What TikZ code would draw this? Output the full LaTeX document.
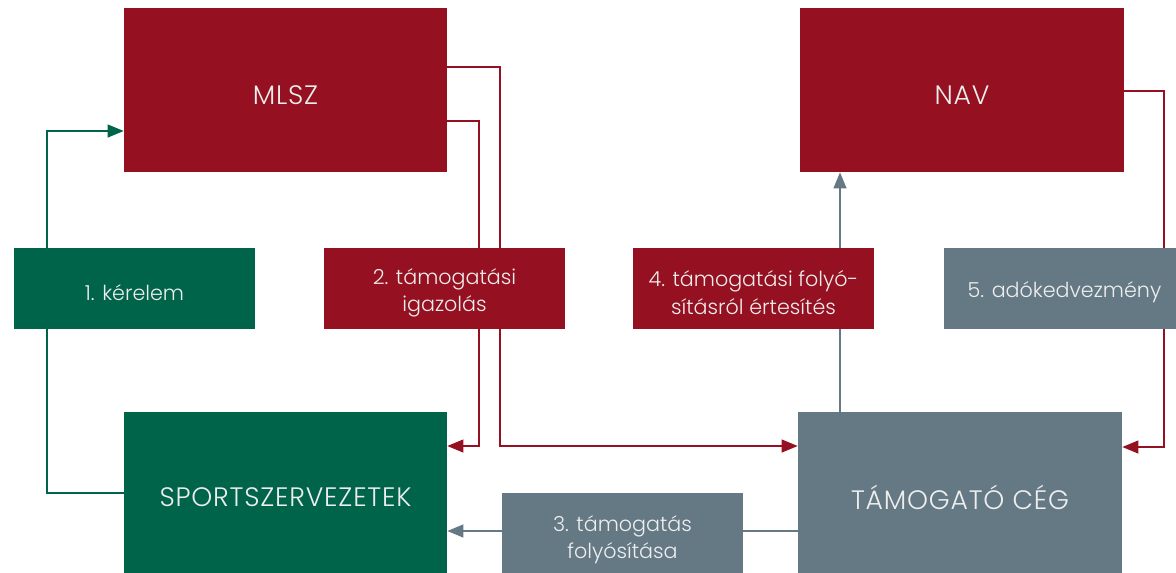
\documentclass[tikz,border=0pt]{standalone}
\usepackage{fontspec}
\setmainfont{Poppins}[UprightFont={* Light}]
\newfontfamily\bigfont{Poppins}[UprightFont={* Light}, LetterSpace=3]
\usetikzlibrary{arrows.meta}
\definecolor{cred}{HTML}{951020}
\definecolor{cgreen}{HTML}{00644B}
\definecolor{cgrey}{HTML}{657985}
\definecolor{ctext}{HTML}{EEEEEE}
\tikzset{
  box/.style={inner sep=0pt, text=ctext, align=center, font=\bigfont\fontsize{20}{24}\selectfont},
  lab/.style={inner sep=0pt, minimum width=180.75pt, minimum height=60.75pt},
  labtext/.style={inner sep=0pt, text=ctext, align=center, font=\fontsize{15.5}{20.5}\selectfont},
  ln/.style={line width=1.5pt, -{Triangle[length=12pt,width=9.5pt]}},
}
\begin{document}
\begin{tikzpicture}[x=0.75pt,y=-0.75pt]
\useasboundingbox (0,0) rectangle (1176,572);
\clip (0,0) rectangle (1176,572);
% main boxes
\node[box, fill=cred, minimum width=242.25pt, minimum height=123pt,
  label={[box, yshift=-3.75pt]center:MLSZ}] (mlsz) at (285.5,90) {};
\node[box, fill=cred, minimum width=243pt, minimum height=123pt,
  label={[box, yshift=-3.75pt]center:NAV}] (nav) at (962,90) {};
\node[box, fill=cgreen, minimum width=242.25pt, minimum height=127.5pt] (sport) at (285.5,497) {SPORTSZERVEZETEK};
\node[box, fill=cgrey, minimum width=243pt, minimum height=127.5pt] (ceg) at (960,497) {TÁMOGATÓ CÉG};
% connectors
\draw[ln, cgreen] (sport.west |- 0,493) -- (47,493) |- (mlsz.west |- 0,131);
\draw[ln, cred] (mlsz.east |- 0,67) -- (500,67) |- (ceg.west |- 0,446);
\draw[ln, cred] (mlsz.east |- 0,121) -- (479,121) |- (sport.east |- 0,446);
\draw[ln, cgrey] (ceg.north -| 840,0) -- (nav.south -| 840,0);
\draw[ln, cred] (nav.east |- 0,91) -- (1164,91) |- (ceg.east |- 0,447);
\draw[ln, cgrey] (ceg.west |- 0,531) -- (sport.east |- 0,531);
% labels
\node[lab, fill=cgreen, label={[labtext, yshift=-3pt]center:1. kérelem}] (l1) at (134.5,288.5) {};
\node[lab, fill=cred, label={[labtext, yshift=-3pt]center:{2. támogatási\\igazolás}}] (l2) at (444.5,288.5) {};
\node[lab, fill=cred, label={[labtext, yshift=-3pt]center:{4. támogatási folyó-\\sításról értesítés}}] (l4) at (753.5,288.5) {};
\node[lab, fill=cgrey, label={[labtext, yshift=-3pt]center:5. adókedvezmény}] (l5) at (1064.5,288.5) {};
\node[lab, fill=cgrey, minimum height=66pt, label={[labtext, yshift=-2pt]center:{3. támogatás\\folyósítása}}] (l3) at (622.5,537) {};
\end{tikzpicture}
\end{document}
